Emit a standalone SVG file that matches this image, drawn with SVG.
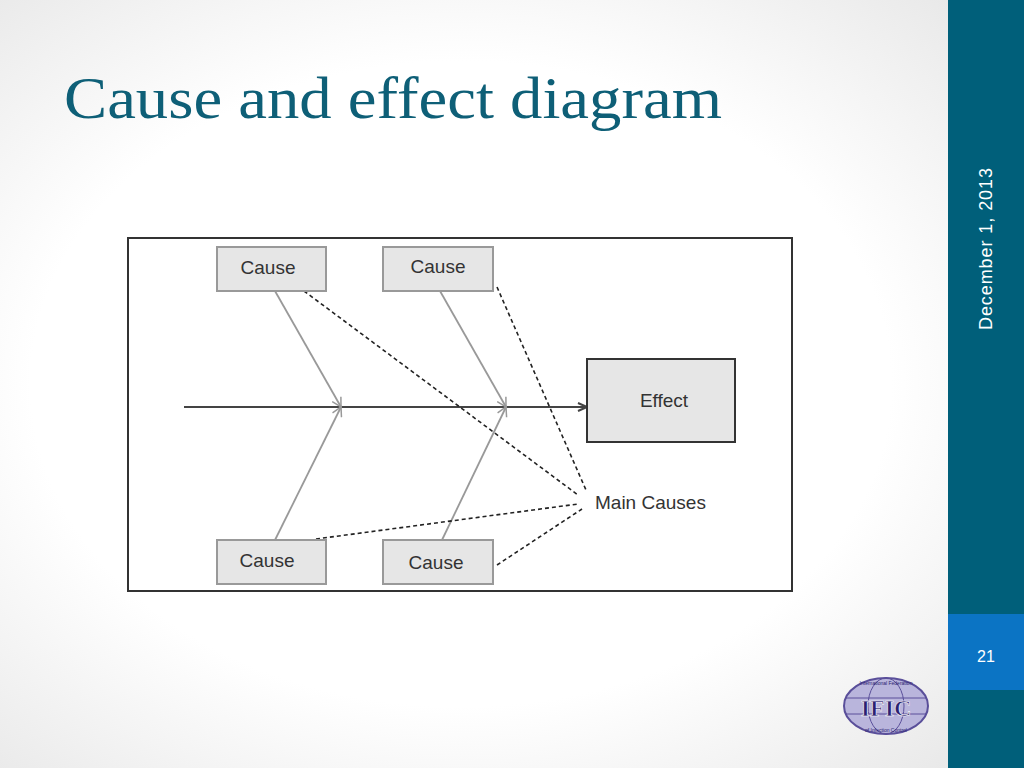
<svg xmlns="http://www.w3.org/2000/svg" width="1024" height="768" viewBox="0 0 1024 768">
<defs>
<radialGradient id="bg" cx="0.45" cy="0.5" r="0.7"><stop offset="0.6" stop-color="#ffffff"/><stop offset="1" stop-color="#e8e8e8"/></radialGradient>
<marker id="ah" markerWidth="12" markerHeight="10" refX="10" refY="5" orient="auto" markerUnits="userSpaceOnUse"><path d="M1,1 L10,5 L1,9" fill="none" stroke="#444" stroke-width="2"/></marker>
<marker id="ahg" markerWidth="12" markerHeight="12" refX="10" refY="6" orient="auto" markerUnits="userSpaceOnUse"><path d="M1,1 L10,6 L1,11" fill="none" stroke="#999" stroke-width="1.5"/></marker>
<style>
.box{fill:#e6e6e6;stroke:#999;stroke-width:2}
.t{font-family:"Liberation Sans",Arial,sans-serif;font-size:19px;fill:#333}
.bone{stroke:#999;stroke-width:1.8;fill:none}
.dash{stroke:#222;stroke-width:1.6;stroke-dasharray:4,3;fill:none}
</style>
</defs>
<rect width="1024" height="768" fill="url(#bg)"/>
<rect x="948" y="0" width="76" height="768" fill="#005f7a"/>
<rect x="948" y="614" width="76" height="76" fill="#0b74c4"/>
<text x="986" y="662" text-anchor="middle" font-family="Liberation Sans,Arial,sans-serif" font-size="16" fill="#fff">21</text>
<text transform="translate(992,330) rotate(-90)" font-family="Liberation Sans,Arial,sans-serif" font-size="18" fill="#fff" textLength="162">December 1, 2013</text>
<text x="64" y="118" font-family="Liberation Serif,'Times New Roman',serif" font-size="60" fill="#0e5f77" textLength="658" lengthAdjust="spacingAndGlyphs">Cause and effect diagram</text>
<rect x="128" y="238" width="664" height="353" fill="#fff" stroke="#333" stroke-width="2"/>
<g id="connectors">
<line x1="184" y1="407" x2="587" y2="407" stroke="#444" stroke-width="2" marker-end="url(#ah)"/>
<line class="bone" x1="275" y1="291" x2="341" y2="407" marker-end="url(#ahg)"/>
<line class="bone" x1="440" y1="291" x2="506" y2="407" marker-end="url(#ahg)"/>
<line class="bone" x1="275" y1="540" x2="341" y2="407" marker-end="url(#ahg)"/>
<line class="bone" x1="442" y1="540" x2="506" y2="407" marker-end="url(#ahg)"/>
<line class="dash" x1="304" y1="291" x2="578" y2="495"/>
<line class="dash" x1="497" y1="287" x2="586" y2="490"/>
<line class="dash" x1="316" y1="539" x2="578" y2="504"/>
<line class="dash" x1="497" y1="565" x2="582" y2="509"/>
</g>
<g id="cause1"><rect class="box" x="217" y="247" width="109" height="44"/><text class="t" x="268" y="274" text-anchor="middle">Cause</text></g>
<g id="cause2"><rect class="box" x="383" y="247" width="110" height="44"/><text class="t" x="438" y="273" text-anchor="middle">Cause</text></g>
<g id="cause3"><rect class="box" x="217" y="540" width="109" height="44"/><text class="t" x="267" y="567" text-anchor="middle">Cause</text></g>
<g id="cause4"><rect class="box" x="383" y="540" width="110" height="44"/><text class="t" x="436" y="569" text-anchor="middle">Cause</text></g>
<g id="effect"><rect x="587" y="359" width="148" height="83" fill="#e6e6e6" stroke="#333" stroke-width="2"/><text class="t" x="664" y="407" text-anchor="middle">Effect</text></g>
<g id="maincauses"><text class="t" x="595" y="509">Main Causes</text></g>
<g id="logo">
<ellipse cx="886" cy="706" rx="42" ry="28" fill="#b9b5dc" stroke="#5a4f9a" stroke-width="2"/>
<ellipse cx="886" cy="706" rx="18" ry="28" fill="none" stroke="#5a4f9a" stroke-width="1"/>
<line x1="846" y1="698" x2="926" y2="698" stroke="#5a4f9a"/><line x1="846" y1="714" x2="926" y2="714" stroke="#5a4f9a"/>
<text x="886" y="716" text-anchor="middle" font-family="Liberation Serif,serif" font-weight="bold" font-size="24" fill="#2a2070" stroke="#fff" stroke-width="0.6">IFIC</text>
<text x="886" y="685" text-anchor="middle" font-family="Liberation Sans,sans-serif" font-size="5" fill="#2a2070">International Federation</text>
<text x="886" y="732" text-anchor="middle" font-family="Liberation Sans,sans-serif" font-size="5" fill="#2a2070">of Infection Control</text>
</g>
</svg>
